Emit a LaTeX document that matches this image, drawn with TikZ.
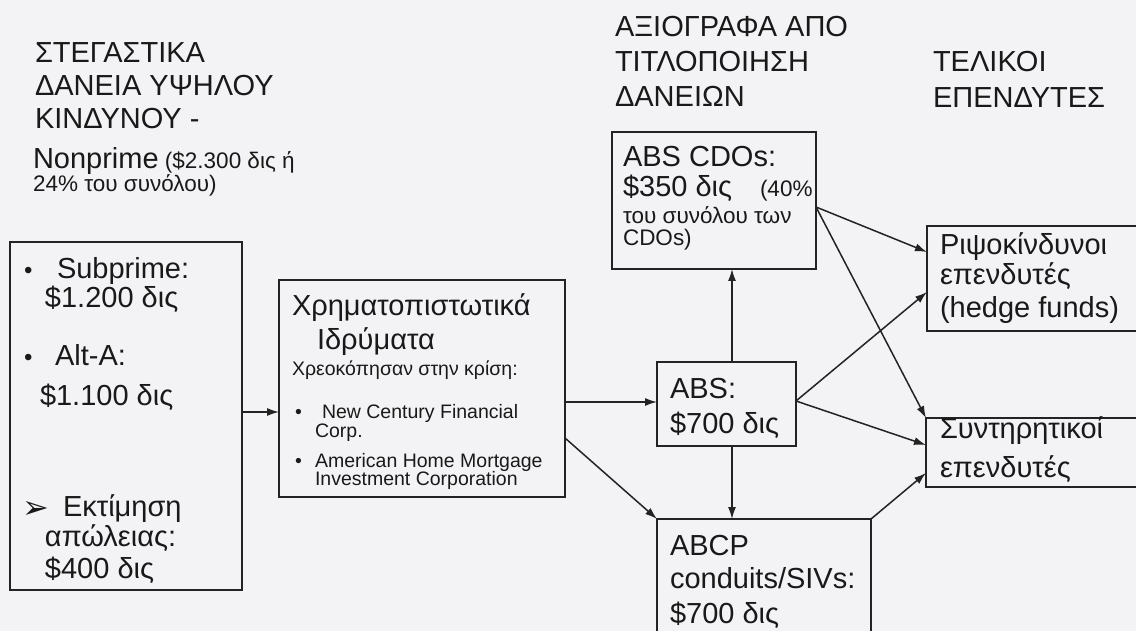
\documentclass[tikz,border=0pt]{standalone}
\usepackage{fontspec}
\setmainfont{Liberation Sans}
\newfontfamily\dejavu{DejaVu Sans}
\usetikzlibrary{arrows.meta,calc}
\definecolor{bg}{RGB}{243,243,245}
\definecolor{ink}{RGB}{25,25,25}
\definecolor{edge}{RGB}{35,35,35}
\tikzset{
 box/.style={draw=edge, line width=1.6pt, rectangle, inner sep=0pt, outer sep=0pt, anchor=north west},
 txt/.style={anchor=base west, inner sep=0pt, outer sep=0pt, text=ink, font=\fontsize{29}{34}\selectfont},
 sml/.style={txt, font=\fontsize{22.5}{26}\selectfont},
 midt/.style={txt, font=\fontsize{19.5}{22}\selectfont},
 bul/.style={txt, font=\fontsize{24}{26}\selectfont},
 arr/.style={draw=edge, line width=1.5pt, -{Latex[length=12pt,width=8pt]}}
}
\begin{document}
\begin{tikzpicture}[x=1pt,y=-1pt]
\useasboundingbox (0,0) rectangle (1136,631);
\clip (0,0) rectangle (1136,631);
\fill[bg] (0,0) rectangle (1136,631);

% boxes
\node[box, minimum width=232pt, minimum height=348pt] (lbox) at (10,242) {};
\node[box, minimum width=286pt, minimum height=217pt] (midbox) at (279,280) {};
\node[box, minimum width=204pt, minimum height=137pt] (cdo) at (612,132) {};
\node[box, minimum width=139pt, minimum height=84pt] (absb) at (657,362) {};
\node[box, minimum width=214pt, minimum height=130pt] (abcp) at (657,519) {};
\node[box, minimum width=240pt, minimum height=105pt] (hedge) at (927,226) {};
\node[box, minimum width=240pt, minimum height=69pt] (cons) at (926,418) {};

% headers
\node[txt] (h1) at (35,63) {ΣΤΕΓΑΣΤΙΚΑ};
\node[txt] (h2) at (35,96) {ΔΑΝΕΙΑ ΥΨΗΛΟΥ};
\node[txt] (h3) at (35,129) {ΚΙΝΔΥΝΟΥ -};
\node[txt] (h4) at (33,169) {Nonprime};
\node[sml] (h5) at (h4.base east) {\ (\$2.300 δις ή};
\node[sml] (h6) at (33,192) {24\% του συνόλου)};
\node[txt] (r1) at (615,37) {ΑΞΙΟΓΡΑΦΑ ΑΠΟ};
\node[txt] (r2) at (615,72) {ΤΙΤΛΟΠΟΙΗΣΗ};
\node[txt] (r3) at (615,107) {ΔΑΝΕΙΩΝ};
\node[txt] (f1) at (933,72) {ΤΕΛΙΚΟΙ};
\node[txt] (f2) at (933,108) {ΕΠΕΝΔΥΤΕΣ};

% left box text
\node[bul] (lb1) at (24,279) {•};
\node[txt] (l1) at (57,279) {Subprime:};
\node[txt] (l2) at (45,308) {\$1.200 δις};
\node[bul] (lb2) at (24,365) {•};
\node[txt] (l3) at (55,365) {Alt-A:};
\node[txt] (l4) at (40,405) {\$1.100 δις};
\node[txt, font=\dejavu\fontsize{32}{34}\selectfont] (lb3) at (23,518) {➢};
\node[txt] (l5) at (63,516) {Εκτίμηση};
\node[txt] (l6) at (45,546) {απώλειας:};
\node[txt] (l7) at (45,578) {\$400 δις};

% middle box text
\node[txt] (m1) at (292,316) {Χρηματοπιστωτικά};
\node[txt] (m2) at (317,349) {Ιδρύματα};
\node[midt] (m3) at (292,375) {Χρεοκόπησαν στην κρίση:};
\node[midt] (mb1) at (295,418) {•};
\node[midt] (m4) at (322,418) {New Century Financial};
\node[midt] (m5) at (315,437) {Corp.};
\node[midt] (mb2) at (295,467) {•};
\node[midt] (m6) at (315,467) {American Home Mortgage};
\node[midt] (m7) at (315,485) {Investment Corporation};

% CDO box text
\node[txt] (c1) at (623,167) {ABS CDOs:};
\node[txt] (c2) at (623,197) {\$350 δις};
\node[sml] (c3) at (760,197) {(40\%};
\node[sml] (c4) at (623,224) {του συνόλου των};
\node[sml] (c5) at (623,246) {CDOs)};

% ABS
\node[txt] (a1) at (670,398) {ABS:};
\node[txt] (a2) at (670,433) {\$700 δις};
% ABCP
\node[txt] (p1) at (670,555) {ABCP};
\node[txt] (p2) at (670,588) {conduits/SIVs:};
\node[txt] (p3) at (670,623) {\$700 δις};
% hedge
\node[txt] (e1) at (940,255) {Ριψοκίνδυνοι};
\node[txt] (e2) at (940,285) {επενδυτές};
\node[txt] (e3) at (940,317) {(hedge funds)};
% conservative
\node[txt] (s1) at (940,438) {Συντηρητικοί};
\node[txt] (s2) at (940,477) {επενδυτές};

% connectors
\draw[arr] (lbox.east |- 0,412) -- (midbox.west |- 0,412);
\draw[arr] (midbox.east |- 0,402) -- (absb.west |- 0,402);
\draw[arr] (midbox.east |- 0,438) -- (abcp.north west);
\draw[arr] (732,0 |- absb.north) -- (732,0 |- cdo.south);
\draw[arr] (732,0 |- absb.south) -- (732,0 |- abcp.north);
\draw[arr] (cdo.east |- 0,207) -- (hedge.west |- 0,252);
\draw[arr] (cdo.east |- 0,207) -- (cons.north west);
\draw[arr] (absb.east |- 0,401) -- (hedge.west |- 0,292);
\draw[arr] (absb.east |- 0,401) -- (cons.west |- 0,445);
\draw[arr] (abcp.north east) -- (cons.west |- 0,473);
\end{tikzpicture}
\end{document}
